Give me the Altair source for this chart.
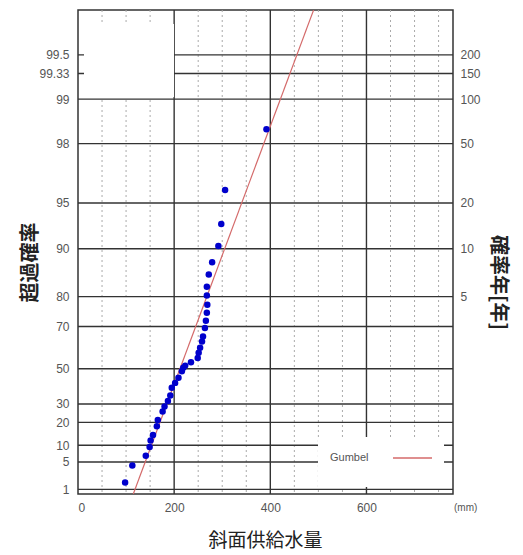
import math
import altair as alt
import pandas as pd

# ---- data ----
flow = [98, 113, 141, 149, 151, 156, 164, 166, 176, 180, 187, 192, 195, 202, 209,
        216, 219, 223, 235, 249, 251, 254, 258, 260, 264, 266, 268, 269, 268, 268,
        272, 279, 292, 298, 306, 392]
prob = [1.6, 4.2, 6.6, 9.4, 11.8, 14.1, 18.1, 21.2, 25.8, 28.5, 31.7, 34.8, 39.3,
        42.1, 45.0, 48.6, 50.5, 51.7, 53.5, 55.7, 58.3, 60.7, 63.6, 65.9, 69.4,
        72.2, 75.0, 77.6, 80.3, 82.6, 85.4, 87.8, 90.4, 93.1, 95.9, 98.4]

fit_flow = [115, 490]
fit_prob = [0.706, 99.752]

prob_ticks = [1, 5, 10, 20, 30, 50, 70, 80, 90, 95, 98, 99, 99.33, 99.5]
prob_labels = ["1", "5", "10", "20", "30", "50", "70", "80", "90", "95", "98",
               "99", "99.33", "99.5"]
return_periods = [5, 10, 20, 50, 100, 150, 200]
x_major = [0, 200, 400, 600]
x_grid_major = [200, 400, 600]
x_minor = [50, 100, 150, 250, 300, 350, 450, 500, 550, 650, 700, 750]


def gv(p_percent):
    p = p_percent / 100.0
    return -math.log(-math.log(p))


def label_expr(vals, labels):
    parts = [f"abs(datum.value-({v:.6f}))<0.001 ? '{l}'" for v, l in zip(vals, labels)]
    return " : ".join(parts) + " : ''"


pts = pd.DataFrame({"flow": flow, "g": [gv(p) for p in prob]})
fit = pd.DataFrame({"flow": fit_flow, "g": [gv(p) for p in fit_prob]})
hgrid = pd.DataFrame({"g": [gv(p) for p in prob_ticks]})
vminor = pd.DataFrame({"v": x_minor})
vmajor = pd.DataFrame({"v": x_grid_major})
xlab = pd.DataFrame({"v": x_major})
one = pd.DataFrame({"a": [0]})

left_vals = [gv(p) for p in prob_ticks]
right_vals = [gv(100 * (1 - 1 / t)) for t in return_periods]
right_labels = [str(t) for t in return_periods]

FONT = "Liberation Sans"
CJK = "Noto Sans CJK JP"

xs = alt.Scale(domain=[0, 780], nice=False, zero=False)
ys = alt.Scale(domain=[-1.6, 6.0], nice=False, zero=False)

x_axis = alt.Axis(values=x_major, grid=False, ticks=False, domain=False,
                  labelFont=FONT, labelFontSize=12, labelColor="#555",
                  labelPadding=8, title="斜面供給水量", titleFont=CJK,
                  titleFontSize=19, titleFontWeight="normal", titleColor="#222",
                  titleX=187, titleY=46, titleBaseline="middle", titleAlign="center")

left_axis = alt.Axis(orient="left", values=left_vals,
                     labelExpr=label_expr(left_vals, prob_labels),
                     grid=False, ticks=False, domain=False,
                     labelFont=FONT, labelFontSize=12, labelColor="#555",
                     labelPadding=9, title="超過確率", titleFont=CJK,
                     titleFontSize=20, titleFontWeight="bold", titleColor="#222",
                     titleAngle=-90, titleX=-48, titleY=252,
                     titleBaseline="middle", titleAlign="center")

right_axis = alt.Axis(orient="right", values=right_vals,
                      labelExpr=label_expr(right_vals, right_labels),
                      grid=False, ticks=False, domain=False,
                      labelFont=FONT, labelFontSize=12, labelColor="#555",
                      labelPadding=7, title="確率年[年]", titleFont=CJK,
                      titleFontSize=20, titleFontWeight="bold", titleColor="#222",
                      titleAngle=90, titleX=44, titleY=272,
                      titleBaseline="middle", titleAlign="center")

# x axis carrier layer (first layer that encodes x)
xaxis_layer = alt.Chart(xlab).mark_point(opacity=0).encode(
    x=alt.X("v:Q", scale=xs, axis=x_axis))

minor_layer = alt.Chart(vminor).mark_rule(color="#aaa", strokeDash=[2, 3], strokeWidth=1).encode(
    x=alt.X("v:Q", scale=xs, axis=None))

hgrid_layer = alt.Chart(hgrid).mark_rule(color="#333", strokeWidth=1.4).encode(
    y=alt.Y("g:Q", scale=ys, axis=left_axis))

major_layer = alt.Chart(vmajor).mark_rule(color="#333", strokeWidth=1.4).encode(
    x=alt.X("v:Q", scale=xs, axis=None))

box_tl = alt.Chart(one).mark_rect(color="white").encode(
    x=alt.value(6), x2=alt.value(96), y=alt.value(14), y2=alt.value(87))

box_legend = alt.Chart(one).mark_rect(color="white").encode(
    x=alt.value(240), x2=alt.value(366), y=alt.value(427), y2=alt.value(477))

fit_layer = alt.Chart(fit).mark_line(color="#d46a6a", strokeWidth=1.2, clip=True).encode(
    x=alt.X("flow:Q", scale=xs, axis=None),
    y=alt.Y("g:Q", scale=ys, axis=None))

pts_layer = alt.Chart(pts).mark_circle(color="#0000cc", size=42, opacity=1).encode(
    x=alt.X("flow:Q", scale=xs, axis=None),
    y=alt.Y("g:Q", scale=ys, axis=None))

right_layer = alt.Chart(pd.DataFrame({"g": right_vals})).mark_point(opacity=0).encode(
    y=alt.Y("g:Q", scale=ys, axis=right_axis))

legend_text = alt.Chart(one).mark_text(text="Gumbel", font=FONT, fontSize=11,
                                       color="#555", align="left", baseline="middle").encode(
    x=alt.value(252), y=alt.value(448))

legend_line = alt.Chart(one).mark_rule(color="#d46a6a", strokeWidth=1.5).encode(
    x=alt.value(315), x2=alt.value(354), y=alt.value(448))

unit_text = alt.Chart(one).mark_text(text="(mm)", font=FONT, fontSize=10,
                                     color="#555", align="left", baseline="middle").encode(
    x=alt.value(376), y=alt.value(498))

chart = alt.layer(
    xaxis_layer, minor_layer, hgrid_layer, major_layer, box_tl, box_legend,
    fit_layer, pts_layer, right_layer, legend_text, legend_line, unit_text
).resolve_axis(y="independent", x="independent").properties(
    width=375, height=484,
    autosize=alt.AutoSizeParams(type="none"),
    padding={"left": 78, "top": 10, "right": 70, "bottom": 61},
    background="white",
).configure_view(stroke="#333", strokeWidth=1.5)

chart.save("out.html", embed_options={"renderer": "svg", "actions": False})
